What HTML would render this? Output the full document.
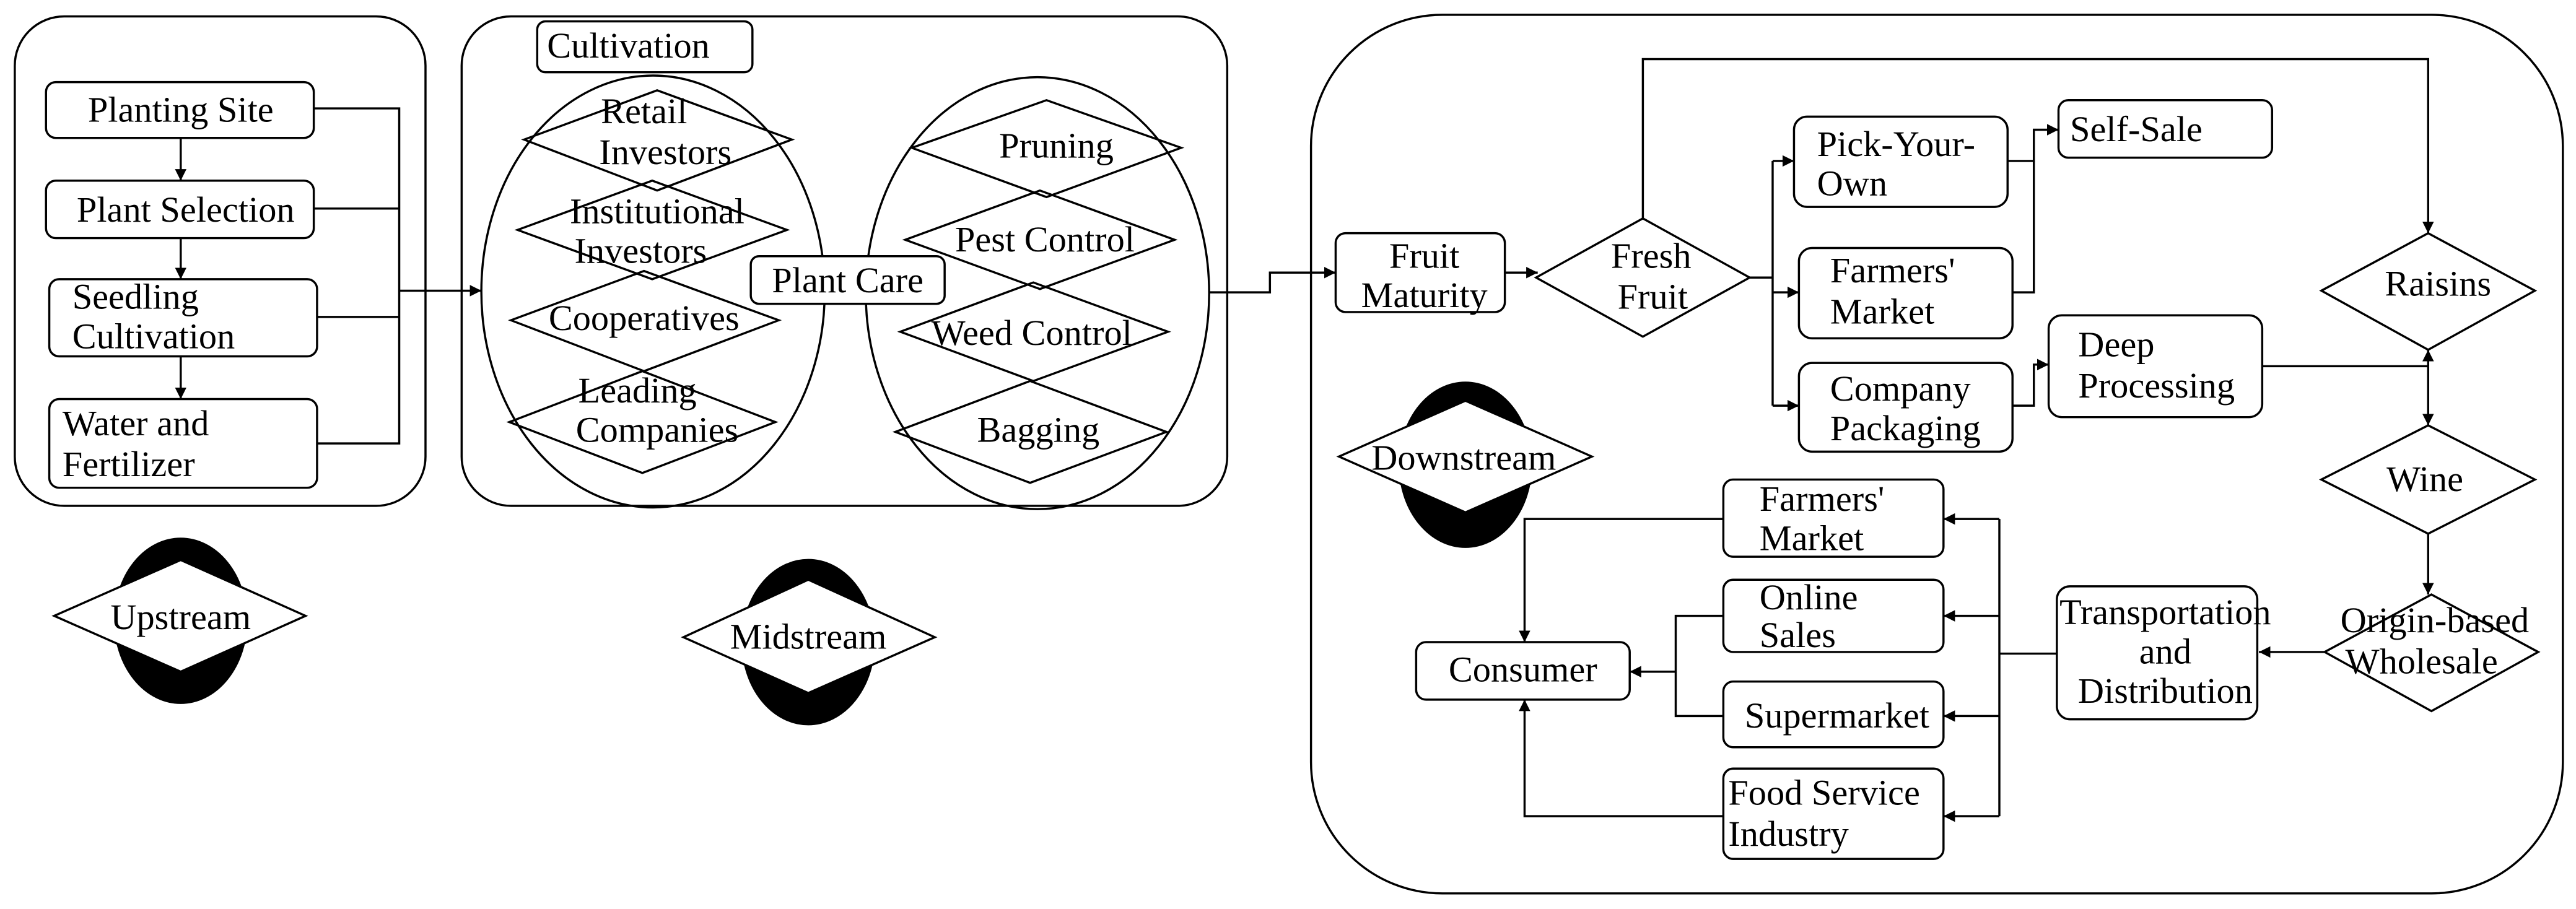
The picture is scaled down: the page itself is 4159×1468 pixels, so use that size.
<!DOCTYPE html>
<html><head><meta charset="utf-8"><style>html,body{margin:0;padding:0;background:#fff}svg{display:block}svg text{font-family:"Liberation Serif","DejaVu Serif",serif;font-size:22px}</style></head>
<body>
<svg xmlns="http://www.w3.org/2000/svg" width="4159" height="1468" viewBox="0 0 1568 553.5" preserveAspectRatio="none" fill="none" stroke="#000" stroke-width="1.3">
<defs><marker id="a" viewBox="0 0 10 10" refX="10" refY="5" markerWidth="7" markerHeight="7" markerUnits="userSpaceOnUse" orient="auto"><path d="M0,0L10,5L0,10z" fill="#000" stroke="none"/></marker></defs>
<rect x="9" y="10" width="250" height="298" rx="30"/>
<rect x="28" y="50" width="163" height="34" rx="6"/>
<rect x="28" y="110" width="163" height="35" rx="6"/>
<rect x="30" y="170" width="163" height="47" rx="6"/>
<rect x="30" y="243" width="163" height="54" rx="6"/>
<g marker-end="url(#a)"><path d="M110,84V110"/><path d="M110,145V170"/><path d="M110,217V243"/><path d="M243,177H293"/></g>
<path d="M191,66H243V270H193M191,127H243M193,193H243"/>
<ellipse cx="110" cy="378" rx="40" ry="50" fill="#000"/>
<path d="M33,375L110,341L186,375L110,409z" fill="#fff"/>
<rect x="281" y="10" width="466" height="298" rx="30"/>
<rect x="327" y="13" width="131" height="31" rx="5"/>
<ellipse cx="397.5" cy="177.5" rx="104.5" ry="131.5"/>
<ellipse cx="631.5" cy="178.5" rx="104.5" ry="131.5"/>
<path d="M319,85L400,55L482,85L400,116z"/>
<path d="M315,140L397,110L479,140L397,170z"/>
<path d="M311,195L392,165L474,195L392,226z"/>
<path d="M310,257L391,226L472,257L391,288z"/>
<path d="M555,90L637,61L719,90L637,120z"/>
<path d="M551,146L633,116L715,146L633,176z"/>
<path d="M548,202L629,172L711,202L629,232z"/>
<path d="M545,263L627,232L710,263L627,294z"/>
<rect x="457" y="156" width="118" height="29" rx="5" fill="#fff"/>
<ellipse cx="492" cy="391" rx="40" ry="50" fill="#000"/>
<path d="M416,388L492,353L569,388L492,422z" fill="#fff"/>
<path d="M736,178H773V166H813" marker-end="url(#a)"/>
<rect x="798" y="9" width="762" height="535" rx="80"/>
<rect x="813" y="142" width="103" height="48" rx="6"/>
<path d="M916,166H936" marker-end="url(#a)"/>
<path d="M935,169L1000,133L1065,169L1000,205z"/>
<path d="M1000,133V36H1478V142" marker-end="url(#a)"/>
<path d="M1065,169H1079"/>
<path d="M1079,98V247"/>
<g marker-end="url(#a)"><path d="M1079,98H1092"/><path d="M1079,178H1095"/><path d="M1079,247H1095"/>
<path d="M1222,98H1238V79H1253"/><path d="M1225,247H1238V222H1247"/>
<path d="M1478,223V213"/><path d="M1478,223V259"/><path d="M1478,325V362"/>
<path d="M1415,397H1375"/>
<path d="M1217,316H1183"/><path d="M1217,375H1183"/><path d="M1217,436H1183"/><path d="M1217,497H1183"/>
<path d="M1049,316H928V391"/><path d="M1049,497H928V426"/><path d="M1020,409H992"/></g>
<path d="M1225,178H1238V98"/>
<path d="M1377,223H1478"/>
<path d="M1252,398H1217M1217,316V497"/>
<path d="M1049,375H1020V436H1049"/>
<rect x="1092" y="71" width="130" height="55" rx="8"/>
<rect x="1095" y="151" width="130" height="55" rx="8"/>
<rect x="1095" y="221" width="130" height="54" rx="8"/>
<rect x="1253" y="61" width="130" height="35" rx="6"/>
<rect x="1247" y="192" width="130" height="62" rx="8"/>
<path d="M1413,177L1478,142L1543,177L1478,213z"/>
<path d="M1413,292L1478,259L1543,292L1478,325z"/>
<path d="M1415,397L1480,362L1545,397L1480,433z"/>
<rect x="1252" y="357" width="122" height="81" rx="8"/>
<rect x="1049" y="292" width="134" height="47" rx="6"/>
<rect x="1049" y="353" width="134" height="44" rx="6"/>
<rect x="1049" y="415" width="134" height="40" rx="6"/>
<rect x="1049" y="468" width="134" height="55" rx="6"/>
<rect x="862" y="391" width="130" height="35" rx="6"/>
<ellipse cx="892" cy="283" rx="40" ry="50" fill="#000"/>
<path d="M815,278L892,244L969,278L892,312z" fill="#fff"/>
<g fill="#000" stroke="none">
<text x="110" y="74" text-anchor="middle">Planting Site</text>
<text x="113" y="135" text-anchor="middle">Plant Selection</text>
<text x="44" y="188">Seedling</text><text x="44" y="212">Cultivation</text>
<text x="38" y="265">Water and</text><text x="38" y="290">Fertilizer</text>
<text x="110" y="383" text-anchor="middle">Upstream</text>
<text x="333" y="35">Cultivation</text>
<text x="392" y="75" text-anchor="middle">Retail</text><text x="405" y="100" text-anchor="middle">Investors</text>
<text x="400" y="136" text-anchor="middle">Institutional</text><text x="390" y="160" text-anchor="middle">Investors</text>
<text x="392" y="201" text-anchor="middle">Cooperatives</text>
<text x="388" y="245" text-anchor="middle">Leading</text><text x="400" y="269" text-anchor="middle">Companies</text>
<text x="643" y="96" text-anchor="middle">Pruning</text>
<text x="636" y="153" text-anchor="middle">Pest Control</text>
<text x="628" y="210" text-anchor="middle">Weed Control</text>
<text x="632" y="269" text-anchor="middle">Bagging</text>
<text x="516" y="178" text-anchor="middle">Plant Care</text>
<text x="492" y="395" text-anchor="middle">Midstream</text>
<text x="867" y="163" text-anchor="middle">Fruit</text><text x="867" y="187" text-anchor="middle">Maturity</text>
<text x="1005" y="163" text-anchor="middle">Fresh</text><text x="1006" y="188" text-anchor="middle">Fruit</text>
<text x="1106" y="95">Pick-Your-</text><text x="1106" y="119">Own</text>
<text x="1114" y="172">Farmers'</text><text x="1114" y="197">Market</text>
<text x="1114" y="244">Company</text><text x="1114" y="268">Packaging</text>
<text x="1260" y="86">Self-Sale</text>
<text x="1265" y="217">Deep</text><text x="1265" y="242">Processing</text>
<text x="1484" y="180" text-anchor="middle">Raisins</text>
<text x="1476" y="299" text-anchor="middle">Wine</text>
<text x="1482" y="385" text-anchor="middle">Origin-based</text><text x="1474" y="410" text-anchor="middle">Wholesale</text>
<text x="1318" y="380" text-anchor="middle">Transportation</text><text x="1318" y="404" text-anchor="middle">and</text><text x="1318" y="428" text-anchor="middle">Distribution</text>
<text x="1071" y="311">Farmers'</text><text x="1071" y="335">Market</text>
<text x="1071" y="371">Online</text><text x="1071" y="394">Sales</text>
<text x="1062" y="443">Supermarket</text>
<text x="1052" y="490">Food Service</text><text x="1052" y="515">Industry</text>
<text x="927" y="415" text-anchor="middle">Consumer</text>
<text x="891" y="286" text-anchor="middle">Downstream</text>
</g>
</svg>
</body></html>
